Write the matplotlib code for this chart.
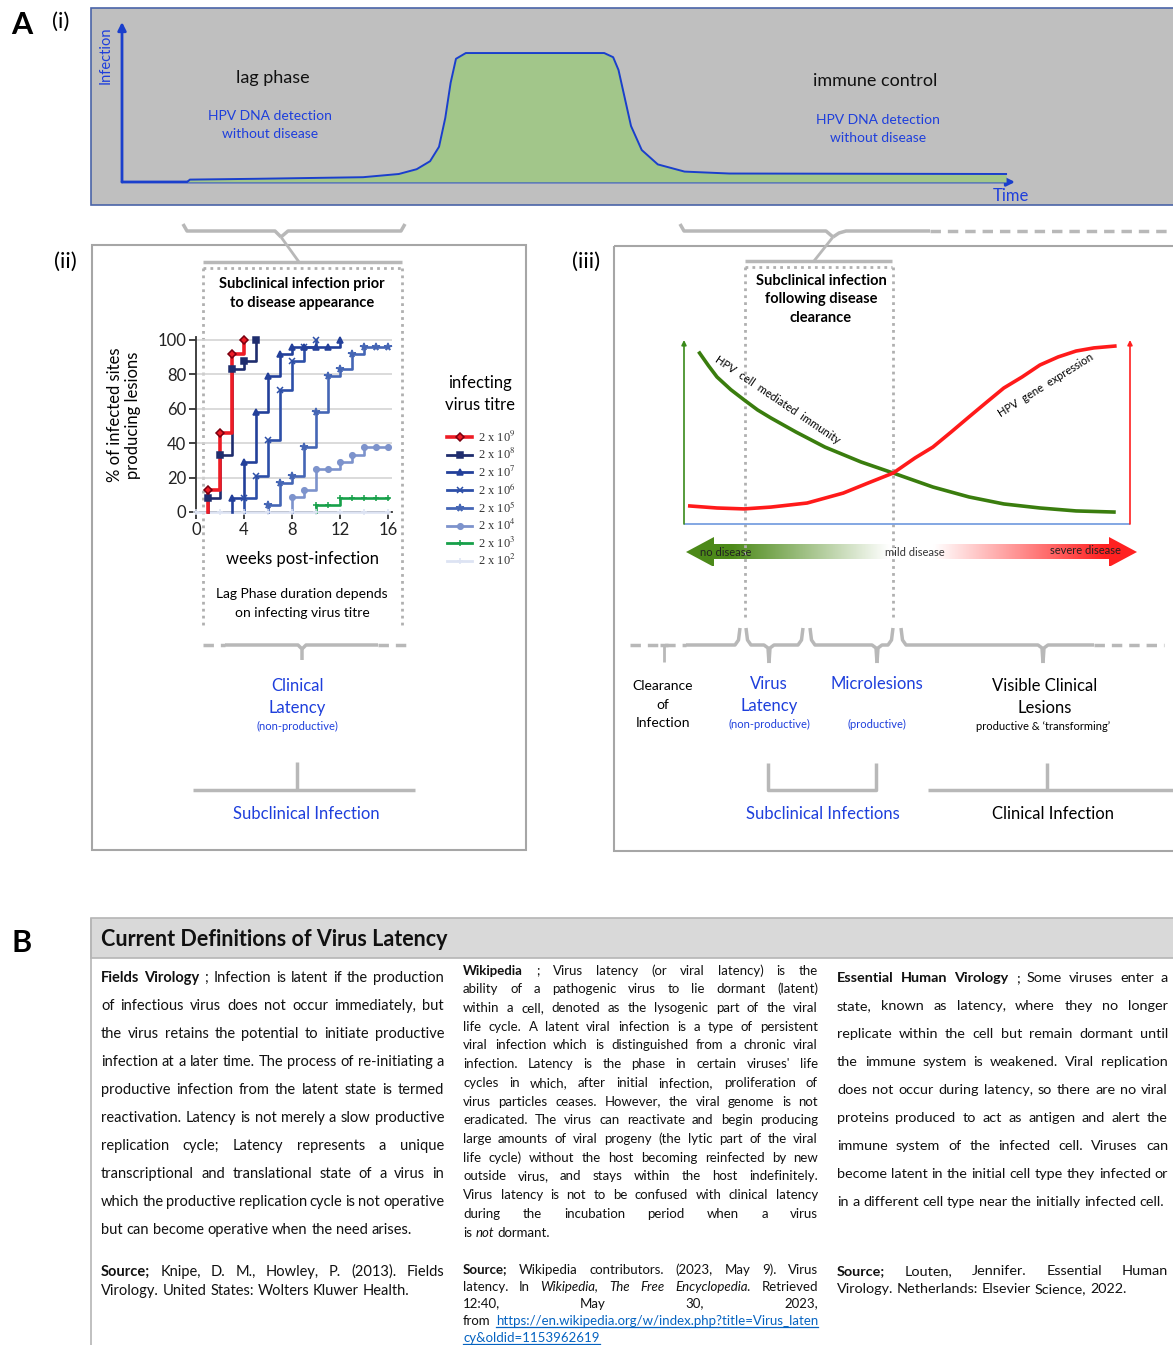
import numpy as np
import matplotlib.pyplot as plt
from matplotlib.patches import Rectangle, Polygon

plt.rcParams['font.family'] = ['Lato', 'DejaVu Sans']
plt.rcParams['mathtext.fontset'] = 'stix'

W, H = 1173, 1345
BLUE = '#1e3fdc'
GREY = '#b8b8b8'

# ---------------- data ----------------
# (i) course of infection, time and infection level in % of the axis
course_t = [7.3, 7.6, 15, 27, 31, 33, 34.5, 35.5, 36.2, 36.8, 37.4, 38.5,
            54.0, 55.0, 55.6, 56.2, 57.0, 58.2, 60.0, 63.0, 68.0, 99.0]
course_inf = [0, 1.5, 2.0, 3.0, 5.0, 8.0, 13, 22, 40, 62, 77, 80.6,
              80.6, 78, 70, 55, 35, 20, 11, 6.5, 5.3, 5.0]

# (ii) % of infected sites producing lesions vs weeks post-infection
weeks_9 = [1, 1, 2, 3, 4]
pct_9 = [0, 13, 46, 92, 100]
weeks_8 = [1, 1, 2, 3, 4, 5]
pct_8 = [0, 8, 33, 83, 88, 100]
weeks_7 = [3, 3, 4, 5, 6, 7, 8, 9, 10, 11, 12]
pct_7 = [0, 8, 29, 58, 79, 92, 96, 96, 96, 96, 100]
weeks_6 = [4, 4, 5, 6, 7, 8, 9, 10]
pct_6 = [0, 8, 21, 42, 71, 88, 96, 100]
weeks_5 = [6, 6, 7, 8, 9, 10, 11, 12, 13, 14, 15, 16]
pct_5 = [0, 4, 17, 21, 38, 58, 79, 83, 92, 96, 96, 96]
weeks_4 = [8, 8, 9, 10, 11, 12, 13, 14, 15, 16]
pct_4 = [0, 9, 13, 25, 25, 29, 33, 38, 38, 38]
weeks_3 = [10, 10, 11, 12, 13, 14, 15, 16]
pct_3 = [0, 4, 4, 8, 8, 8, 8, 8]
weeks_2 = [0, 2, 4, 6, 8, 10, 12, 14, 16]
pct_2 = [0, 0, 0, 0, 0, 0, 0, 0, 0]

titre_labels = ['2 x 10$^{9}$', '2 x 10$^{8}$', '2 x 10$^{7}$', '2 x 10$^{6}$',
                '2 x 10$^{5}$', '2 x 10$^{4}$', '2 x 10$^{3}$', '2 x 10$^{2}$']
titre_colors = ['#ee1c25', '#1f2d6e', '#23409a', '#2d4fa8',
                '#4566b5', '#7d93cc', '#17a04a', '#dde3f3']
titre_markers = ['D', 's', '^', 'x', '*', 'o', '+', '+']
titre_weeks = [weeks_9, weeks_8, weeks_7, weeks_6, weeks_5, weeks_4, weeks_3, weeks_2]
titre_pct = [pct_9, pct_8, pct_7, pct_6, pct_5, pct_4, pct_3, pct_2]

# (iii) schematic curves (% of the axis)
immunity_x = [3.5, 5.5, 7.4, 10.5, 13.5, 16.5, 19.5, 25.1, 31.6, 39.7, 46.9, 55.8,
              63.9, 71.7, 79.8, 87.9, 96.4]
immunity_y = [92.9, 86.0, 79.9, 73.0, 67.4, 62.0, 57.6, 50.0, 41.8, 33.7, 27.7, 20.1,
              14.7, 10.9, 8.7, 7.1, 6.5]
expression_x = [1.3, 7.4, 13.5, 19.5, 27.6, 35.7, 41.3, 46.9, 51.8, 55.8, 59.9, 63.9,
                67.9, 71.7, 75.8, 79.8, 83.9, 87.9, 91.9, 96.6]
expression_y = [9.8, 8.7, 8.2, 9.2, 11.4, 16.8, 22.3, 27.7, 35.9, 41.8, 50.0, 58.2,
                66.3, 73.9, 79.9, 86.4, 90.8, 94.0, 95.7, 96.7]

# (B) definitions
fields_body = [
    "*Fields* *Virology* ; Infection is latent if the production",
    "of infectious virus does not occur immediately, but",
    "the virus retains the potential to initiate productive",
    "infection at a later time. The process of re-initiating a",
    "productive infection from the latent state is termed",
    "reactivation. Latency is not merely a slow productive",
    "replication cycle; Latency represents a unique",
    "transcriptional and translational state of a virus in",
    "which the productive replication cycle is not operative",
    "but can become operative when the need arises.",
]
fields_source = [
    "*Source;* Knipe, D. M., Howley, P. (2013). Fields",
    "Virology. United States: Wolters Kluwer Health.",
]
wiki_body = [
    "*Wikipedia* ; Virus latency (or viral latency) is the",
    "ability of a pathogenic virus to lie dormant (latent)",
    "within a cell, denoted as the lysogenic part of the viral",
    "life cycle. A latent viral infection is a type of persistent",
    "viral infection which is distinguished from a chronic viral",
    "infection. Latency is the phase in certain viruses' life",
    "cycles in which, after initial infection, proliferation of",
    "virus particles ceases. However, the viral genome is not",
    "eradicated. The virus can reactivate and begin producing",
    "large amounts of viral progeny (the lytic part of the viral",
    "life cycle) without the host becoming reinfected by new",
    "outside virus, and stays within the host indefinitely.",
    "Virus latency is not to be confused with clinical latency",
    "during the incubation period when a virus",
    "is _not_ dormant.",
]
wiki_source = [
    "*Source;* Wikipedia contributors. (2023, May 9). Virus",
    "latency. In _Wikipedia,_ _The_ _Free_ _Encyclopedia._ Retrieved",
    "12:40, May 30, 2023,",
    "from ~https://en.wikipedia.org/w/index.php?title=Virus_laten~",
    "~cy&oldid=1153962619~",
]
ehv_body = [
    "*Essential* *Human* *Virology* ; Some viruses enter a",
    "state, known as latency, where they no longer",
    "replicate within the cell but remain dormant until",
    "the immune system is weakened. Viral replication",
    "does not occur during latency, so there are no viral",
    "proteins produced to act as antigen and alert the",
    "immune system of the infected cell. Viruses can",
    "become latent in the initial cell type they infected or",
    "in a different cell type near the initially infected cell.",
]
ehv_source = [
    "*Source;* Louten, Jennifer. Essential Human",
    "Virology. Netherlands: Elsevier Science, 2022.",
]

# ---------------- figure ----------------
fig = plt.figure(figsize=(W / 100, H / 100), dpi=100)
ax = fig.add_axes([0, 0, 1, 1])
ax.axis('off')


def inset(x0, x1, y0, y1, xlim, ylim):
    a = fig.add_axes([x0 / W, 1 - y1 / H, (x1 - x0) / W, (y1 - y0) / H])
    a.set_xlim(*xlim)
    a.set_ylim(*ylim)
    a.patch.set_alpha(0)
    return a


def seg(xs, ys, color=GREY, lw=2.5, **kw):
    ax.plot(xs, ys, color=color, lw=lw, solid_capstyle='butt', **kw)


def arrow(x0, y0, x1, y1, color, lw=2, ms=12):
    ax.annotate('', xy=(x1, y1), xytext=(x0, y0),
                arrowprops=dict(arrowstyle='-|>', color=color, lw=lw,
                                mutation_scale=ms, shrinkA=0, shrinkB=0))


# panel labels
ax.text(22, 25, 'A', fontsize=22, fontweight='bold', ha='center', va='center')
ax.text(61, 22, '(i)', fontsize=16, ha='center', va='center')
ax.text(65, 262, '(ii)', fontsize=16, ha='center', va='center')
ax.text(586, 262, '(iii)', fontsize=16, ha='center', va='center')
ax.text(22, 943, 'B', fontsize=22, fontweight='bold', ha='center', va='center')

# ---- (i) ----
ax.add_patch(Rectangle((91, 8), 1110, 197, fc='#bfbfbf', ec='#4a64a8', lw=1.2))
ax1 = inset(122, 1015, 22, 182, (0, 100), (0, 100))
ax1.axis('off')
ax1.fill_between(course_t, course_inf, 0, color='#a2c68a', lw=0)
ax1.plot(course_t, course_inf, color='#1a3fcc', lw=1.4)
arrow(122, 182, 122, 22, '#1a3fcc')
arrow(122, 182, 1015, 182, '#1a3fcc')
ax.text(106, 55, 'Infection', rotation=90, color=BLUE, fontsize=10.5, ha='center', va='center')
ax.text(1011, 196, 'Time', color=BLUE, fontsize=12, ha='center', va='center')
ax.text(273, 78, 'lag phase', fontsize=13, ha='center', va='center', color='#111')
ax.text(875, 81, 'immune control', fontsize=13, ha='center', va='center', color='#111')
for cx, cy in [(270, 116), (878, 120)]:
    ax.text(cx, cy, 'HPV DNA detection', color=BLUE, fontsize=10, ha='center', va='center')
    ax.text(cx, cy + 18, 'without disease', color=BLUE, fontsize=10, ha='center', va='center')

# ---- (ii) ----
ax.add_patch(Rectangle((92, 245), 434, 605, fc='none', ec='#a6a6a6', lw=1.5))
seg([183, 187, 275, 281], [224, 231, 231, 237])
seg([405, 401, 288, 281], [224, 231, 231, 237])
seg([281, 299], [237, 262], lw=2)
seg([203, 402], [262, 262], lw=2.5)
dots = dict(color='#b0b0b0', lw=2, linestyle=(0, (1, 1.5)))
ax.plot([203, 402], [268, 268], **dots)
ax.plot([203, 203], [268, 625], **dots)
ax.plot([402, 402], [268, 625], **dots)
ax.text(302, 284, 'Subclinical infection prior', fontsize=10.5, fontweight='bold', ha='center', va='center')
ax.text(302, 303, 'to disease appearance', fontsize=10.5, fontweight='bold', ha='center', va='center')

ax2 = inset(196, 196 + 16.3 * 12, 512 - 102 * 1.72, 512, (0, 16.3), (0, 102))
for wk, pc, col, mk in list(zip(titre_weeks, titre_pct, titre_colors, titre_markers))[::-1]:
    lw = 2.6 if col == '#ee1c25' else 1.9
    ax2.step(wk, pc, where='post', color=col, lw=lw, clip_on=False, zorder=3)
    skip = 1 if wk[0] == wk[1] else 0
    ax2.plot(wk[skip:], pc[skip:], ls='none', marker=mk,
             ms=4 if mk != '*' else 5.5, color=col,
             mec=col if col != '#ee1c25' else '#7a0010', mew=1.1, clip_on=False, zorder=4)
ax2.set_xticks([0, 4, 8, 12, 16])
ax2.set_yticks([0, 20, 40, 60, 80, 100])
ax2.tick_params(labelsize=12, length=5, width=1.2, colors='#222', pad=2)
ax2.yaxis.grid(True, color='#d4d4d4', lw=1.2)
ax2.set_axisbelow(True)
for s in ['top', 'right']:
    ax2.spines[s].set_visible(False)
for s in ['left', 'bottom']:
    ax2.spines[s].set_color('#333')
    ax2.spines[s].set_linewidth(1.3)
ax.text(124, 415, '% of infected sites\nproducing lesions', rotation=90, fontsize=12,
        ha='center', va='center', linespacing=1.15)
ax.text(303, 559, 'weeks post-infection', fontsize=12, ha='center', va='center')
ax.text(302, 594, 'Lag Phase duration depends', fontsize=10, ha='center', va='center')
ax.text(302, 613, 'on infecting virus titre', fontsize=10, ha='center', va='center')

# legend
ax.text(480, 383, 'infecting', fontsize=12, ha='center', va='center')
ax.text(480, 405, 'virus titre', fontsize=12, ha='center', va='center')
for i, (lab, col, mk) in enumerate(zip(titre_labels, titre_colors, titre_markers)):
    y = 437 + 17.7 * i
    ax.plot([447, 472], [y, y], color=col, lw=2.6 if i == 0 else 2)
    ax.plot([459.5], [y], marker=mk, ms=4 if mk != '*' else 5.5, color=col,
            mec='#7a0010' if i == 0 else col, mew=1.1)
    ax.text(478, y, lab, fontsize=9, family=['Liberation Serif', 'DejaVu Serif'],
            ha='left', va='center', color='#333')

# lower brackets (ii)
dash = dict(color=GREY, lw=2.5, linestyle=(0, (3, 2)))
ax.plot([203, 225], [645, 645], **dash)
ax.plot([378, 407], [645, 645], **dash)
seg([225, 298, 302, 302], [645, 645, 649, 660])
seg([378, 306, 302], [645, 645, 649])
ax.text(297, 686, 'Clinical', color=BLUE, fontsize=12, ha='center', va='center')
ax.text(297, 708, 'Latency', color=BLUE, fontsize=12, ha='center', va='center')
ax.text(297, 726, '(non-productive)', color=BLUE, fontsize=8, ha='center', va='center')
seg([297, 297], [762, 790])
seg([193, 415], [790, 790])
ax.text(306, 814, 'Subclinical Infection', color=BLUE, fontsize=12, ha='center', va='center')

# ---- (iii) ----
ax.add_patch(Rectangle((614, 246), 620, 605, fc='none', ec='#a6a6a6', lw=1.5))
seg([680, 684, 826, 833], [224, 231, 231, 237])
seg([930, 846, 839, 833], [231, 231, 233, 237])
ax.plot([930, 1173], [231, 231], **dash)
seg([833, 814], [237, 261], lw=2)
seg([745, 892], [261, 261])
ax.plot([745, 892], [267, 267], **dots)
ax.plot([745, 745], [267, 617], **dots)
ax.plot([893, 893], [267, 617], **dots)
for k, t in enumerate(['Subclinical infection', 'following disease', 'clearance']):
    ax.text(821, 281 + 18.5 * k, t, fontsize=10.5, fontweight='bold', ha='center', va='center')

ax3 = inset(684, 1130, 340, 524, (0, 100), (0, 100))
ax3.axis('off')
ax3.plot(immunity_x, immunity_y, color='#3a7d0e', lw=2.6)
ax3.plot(expression_x, expression_y, color='#ff1a1a', lw=2.6)
seg([684, 1130], [524, 524], color='#7aa0e0', lw=1.3)
arrow(684, 524, 684, 340, '#3a8a1a', lw=1.2, ms=7)
arrow(1130, 524, 1130, 340, '#ff2020', lw=1.2, ms=7)
ax.text(778, 400, 'HPV  cell  mediated  immunity', rotation=-34, fontsize=8,
        ha='center', va='center', rotation_mode='anchor')
ax.text(1046, 385, 'HPV  gene  expression', rotation=32, fontsize=8,
        ha='center', va='center', rotation_mode='anchor')

# gradient arrow
f = np.linspace(0, 1, 300)
g_green = np.array([0.30, 0.54, 0.10])
g_red = np.array([1.0, 0.13, 0.13])
a_g = np.clip(1 - (f - 0.1) / 0.35, 0, 1)[:, None]
a_r = np.clip((f - 0.55) / 0.38, 0, 1)[:, None]
rgb = np.ones((300, 3)) * (1 - a_g) + g_green * a_g
rgb = rgb * (1 - a_r) + g_red * a_r
im = ax.imshow(rgb[None, :, :], extent=(686, 1137, 566, 537), aspect='auto', zorder=1)
shape = Polygon([(686, 552), (714, 537), (714, 544), (1109, 544), (1109, 537), (1137, 552),
                 (1109, 567), (1109, 559), (714, 559), (714, 567)], transform=ax.transData)
im.set_clip_path(shape)
ax.text(726, 552, 'no disease', fontsize=8, ha='center', va='center', color='#222', zorder=3)
ax.text(915, 552, 'mild disease', fontsize=8, ha='center', va='center', color='#333', zorder=3)
ax.text(1085, 551, 'severe disease', fontsize=8, ha='center', va='center', color='#222', zorder=3)


def brace(a, b, c, left=True, right=True):
    xs, ys = [], []
    if left:
        xs += [a, a + 1.5, a + 5]
        ys += [628, 640, 645]
    xs += [c - 5, c - 1, c]
    ys += [645, 648, 663]
    seg(xs, ys)
    xs, ys = [c, c + 1, c + 5], [663, 648, 645]
    if right:
        xs += [b - 5, b - 1.5, b]
        ys += [645, 640, 628]
    else:
        xs += [b]
        ys += [645]
    seg(xs, ys)


ax.plot([630, 686], [645, 645], **dash)
seg([686, 735, 738.5, 740], [645, 645, 640, 628])
seg([660, 668], [645, 645])
seg([664, 664], [645, 662], lw=2)
brace(746, 803, 769)
brace(810, 893, 877)
brace(901, 1094, 1043, right=False)
ax.plot([1094, 1164], [645, 645], **dash)

ax.text(663, 686, 'Clearance', fontsize=10, ha='center', va='center')
ax.text(663, 705, 'of', fontsize=10, ha='center', va='center')
ax.text(663, 723, 'Infection', fontsize=10, ha='center', va='center')
ax.text(769, 684, 'Virus', color=BLUE, fontsize=12, ha='center', va='center')
ax.text(769, 706, 'Latency', color=BLUE, fontsize=12, ha='center', va='center')
ax.text(769, 724, '(non-productive)', color=BLUE, fontsize=8, ha='center', va='center')
ax.text(877, 684, 'Microlesions', color=BLUE, fontsize=12, ha='center', va='center')
ax.text(877, 724, '(productive)', color=BLUE, fontsize=8, ha='center', va='center')
ax.text(1045, 686, 'Visible Clinical', fontsize=12, ha='center', va='center')
ax.text(1045, 708, 'Lesions', fontsize=12, ha='center', va='center')
ax.text(1043, 726, 'productive & \u2018transforming\u2019', fontsize=8, ha='center', va='center')
seg([768, 768, 876, 876], [763, 790, 790, 763])
ax.text(823, 814, 'Subclinical Infections', color=BLUE, fontsize=12, ha='center', va='center')
seg([928, 1173], [790, 790])
seg([1047, 1047], [763, 790])
ax.text(1053, 814, 'Clinical Infection', fontsize=12, ha='center', va='center')

# ---- (B) ----
ax.add_patch(Rectangle((91, 918), 1110, 40, fc='#d9d9d9', ec='#b5b5b5', lw=1.2))
seg([91, 91], [918, 1345], color='#b5b5b5', lw=1.2)
ax.text(101, 939, 'Current Definitions of Virus Latency', fontsize=15.5,
        fontweight='bold', ha='left', va='center', color='#111')

ax.set_xlim(0, W)
ax.set_ylim(H, 0)
renderer = fig.canvas.get_renderer()


def parse(word):
    if word[0] == '*':
        return word.strip('*'), dict(fontweight='bold'), False
    if word[0] == '~':
        return word[1:-1], dict(color='#0563c1'), True
    if word[0] == '_':
        return word[1:-1], dict(fontstyle='italic'), False
    return word, {}, False


def measure(s, fs, style):
    t = ax.text(0, 0, s, fontsize=fs, **style)
    w = t.get_window_extent(renderer).width
    t.remove()
    return w


columns = [
    [(fields_body, 101, 444, 977, 28), (fields_source, 101, 444, 1271, 19)],
    [(wiki_body, 463, 818, 970, 18.72), (wiki_source, 463, 818, 1269, 17)],
    [(ehv_body, 837, 1168, 977, 28), (ehv_source, 837, 1168, 1270, 18)],
]

# per column font size: every line must fit (justified ones with slightly tight spaces)
fs0 = 10.0
space0 = measure('a a', fs0, {}) - measure('aa', fs0, {})
for paragraphs in columns:
    need = 0
    for lines, x0, x1, y0, dy in paragraphs:
        for i, line in enumerate(lines):
            words = [parse(w) for w in line.split()]
            k = 1.0 if i == len(lines) - 1 else 0.6
            tot = sum(measure(s, fs0, st) for s, st, _ in words) + k * space0 * (len(words) - 1)
            need = max(need, tot / (x1 - x0))
    fs = fs0 * min(1.06, 0.99 / need)
    space = measure('a a', fs, {}) - measure('aa', fs, {})

    for lines, x0, x1, y0, dy in paragraphs:
        for i, line in enumerate(lines):
            words = [parse(w) for w in line.split()]
            widths = [measure(s, fs, st) for s, st, _ in words]
            if i < len(lines) - 1 and len(words) > 1:
                gap = (x1 - x0 - sum(widths)) / (len(words) - 1)
            else:
                gap = space
            y = y0 + dy * i + fs * 0.48
            x = x0
            for (s, st, link), w in zip(words, widths):
                st = dict(st)
                ax.text(x, y, s, fontsize=fs, ha='left', va='baseline',
                        color=st.pop('color', '#111'), **st)
                if link:
                    ax.plot([x, x + w], [y + 2, y + 2], color='#0563c1', lw=0.9)
                x += w + gap

ax.set_xlim(0, W)
ax.set_ylim(H, 0)
fig.savefig('out.png', dpi=100)
